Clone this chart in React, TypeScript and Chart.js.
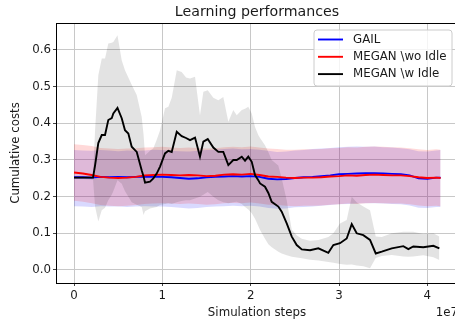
import React, { useEffect, useRef } from "react";
import { Chart, registerables } from "chart.js";

Chart.register(...registerables);

const TITLE = "Learning performances";
const X_LABEL = "Simulation steps";
const Y_LABEL = "Cumulative costs";
const X_OFFSET_LABEL = "1e7";
const SERIES_NAMES = ["GAIL", "MEGAN \\wo Idle", "MEGAN \\w Idle"];
const SERIES_COLORS = ["#0000ff", "#ff0000", "#000000"];
const BAND_COLORS = ["rgba(0,0,255,0.15)", "rgba(255,0,0,0.15)", "rgba(0,0,0,0.11)"];

const X_TICKS = [0, 1, 2, 3, 4];
const Y_TICKS = [0.0, 0.1, 0.2, 0.3, 0.4, 0.5, 0.6];
const X_MIN = -0.204;
const X_MAX = 4.347;
const Y_MIN = -0.0355;
const Y_MAX = 0.6736;

// simulation steps (units of 1e7) for GAIL and MEGAN \wo Idle
const baseSteps = [
  0, 0.1, 0.2, 0.3, 0.4, 0.5, 0.6, 0.7, 0.8, 0.9, 1.0, 1.1, 1.2, 1.3, 1.4, 1.5, 1.6, 1.7, 1.8, 1.9, 2.0,
  2.1, 2.2, 2.3, 2.4, 2.5, 2.6, 2.7, 2.8, 2.9, 3.0, 3.1, 3.2, 3.3, 3.4, 3.5, 3.6, 3.7, 3.8, 3.9, 4.0, 4.1, 4.15,
];

const gailMean = [
  0.253, 0.253, 0.252, 0.254, 0.253, 0.254, 0.253, 0.254, 0.255, 0.254, 0.254, 0.253, 0.251, 0.249, 0.25,
  0.253, 0.254, 0.255, 0.256, 0.255, 0.256, 0.254, 0.249, 0.247, 0.248, 0.251, 0.253, 0.254, 0.256, 0.258,
  0.261, 0.262, 0.263, 0.264, 0.264, 0.263, 0.262, 0.261, 0.258, 0.25, 0.249, 0.252, 0.252,
];
const gailUpper = [
  0.327, 0.326, 0.325, 0.327, 0.326, 0.324, 0.326, 0.325, 0.326, 0.328, 0.327, 0.325, 0.324, 0.323, 0.325,
  0.327, 0.328, 0.33, 0.331, 0.329, 0.33, 0.328, 0.325, 0.322, 0.323, 0.326, 0.327, 0.33, 0.331, 0.333,
  0.335, 0.336, 0.337, 0.336, 0.337, 0.335, 0.334, 0.332, 0.329, 0.324, 0.323, 0.326, 0.327,
];
const gailLower = [
  0.174, 0.173, 0.172, 0.174, 0.173, 0.173, 0.172, 0.173, 0.174, 0.173, 0.173, 0.172, 0.17, 0.168, 0.169,
  0.172, 0.173, 0.174, 0.175, 0.174, 0.175, 0.173, 0.169, 0.167, 0.168, 0.171, 0.172, 0.173, 0.175, 0.177,
  0.179, 0.18, 0.181, 0.182, 0.182, 0.181, 0.18, 0.179, 0.176, 0.17, 0.169, 0.172, 0.172,
];

const woMean = [
  0.266, 0.263, 0.259, 0.254, 0.252, 0.251, 0.252, 0.254, 0.258, 0.259, 0.26, 0.259, 0.258, 0.259, 0.258,
  0.256, 0.257, 0.26, 0.261, 0.26, 0.262, 0.259, 0.255, 0.254, 0.252, 0.251, 0.252, 0.252, 0.253, 0.255,
  0.256, 0.258, 0.257, 0.259, 0.26, 0.259, 0.258, 0.258, 0.256, 0.253, 0.251, 0.252, 0.251,
];
const woUpper = [
  0.343, 0.341, 0.338, 0.333, 0.331, 0.33, 0.331, 0.332, 0.334, 0.335, 0.336, 0.334, 0.333, 0.334, 0.333,
  0.331, 0.332, 0.335, 0.336, 0.335, 0.337, 0.334, 0.331, 0.33, 0.328, 0.328, 0.329, 0.329, 0.33, 0.332,
  0.333, 0.335, 0.334, 0.336, 0.337, 0.336, 0.335, 0.334, 0.332, 0.329, 0.327, 0.329, 0.328,
];
const woLower = [
  0.189, 0.186, 0.182, 0.177, 0.175, 0.174, 0.175, 0.177, 0.18, 0.181, 0.182, 0.181, 0.18, 0.181, 0.18,
  0.178, 0.179, 0.182, 0.183, 0.182, 0.184, 0.181, 0.178, 0.177, 0.175, 0.174, 0.175, 0.175, 0.176, 0.178,
  0.179, 0.181, 0.18, 0.182, 0.183, 0.182, 0.181, 0.181, 0.179, 0.176, 0.174, 0.175, 0.174,
];

// simulation steps (units of 1e7) for MEGAN \w Idle
const wSteps = [
  0, 0.102, 0.215, 0.238, 0.275, 0.314, 0.351, 0.388, 0.427, 0.445, 0.492, 0.54, 0.577, 0.615, 0.653, 0.71,
  0.766, 0.787, 0.804, 0.86, 0.898, 0.936, 0.974, 1.03, 1.068, 1.106, 1.163, 1.219, 1.268, 1.313, 1.37,
  1.426, 1.464, 1.514, 1.577, 1.634, 1.69, 1.747, 1.803, 1.842, 1.899, 1.936, 1.973, 2.012, 2.049, 2.086,
  2.106, 2.162, 2.2, 2.238, 2.313, 2.351, 2.408, 2.465, 2.521, 2.578, 2.672, 2.766, 2.879, 2.936, 3.011,
  3.087, 3.144, 3.2, 3.275, 3.351, 3.416, 3.484, 3.597, 3.728, 3.785, 3.841, 3.954, 4.068, 4.136,
];
const wMean = [
  0.252, 0.252, 0.252, 0.285, 0.346, 0.368, 0.368, 0.409, 0.414, 0.427, 0.442, 0.414, 0.381, 0.372, 0.336,
  0.322, 0.272, 0.255, 0.238, 0.241, 0.25, 0.263, 0.282, 0.318, 0.325, 0.322, 0.377, 0.365, 0.36, 0.354,
  0.361, 0.309, 0.35, 0.357, 0.334, 0.322, 0.322, 0.286, 0.3, 0.3, 0.309, 0.298, 0.309, 0.295, 0.259,
  0.245, 0.236, 0.227, 0.21, 0.186, 0.173, 0.159, 0.127, 0.091, 0.068, 0.056, 0.054, 0.059, 0.047, 0.068,
  0.073, 0.086, 0.125, 0.1, 0.095, 0.082, 0.045, 0.05, 0.059, 0.065, 0.057, 0.064, 0.062, 0.066, 0.059,
];
const wUpper = [
  0.256, 0.256, 0.258, 0.38, 0.531, 0.577, 0.577, 0.618, 0.62, 0.622, 0.64, 0.572, 0.545, 0.525, 0.505,
  0.477, 0.418, 0.37, 0.313, 0.325, 0.332, 0.355, 0.381, 0.441, 0.445, 0.47, 0.545, 0.54, 0.525, 0.522,
  0.527, 0.422, 0.486, 0.49, 0.47, 0.463, 0.472, 0.404, 0.436, 0.422, 0.436, 0.44, 0.445, 0.427, 0.39,
  0.368, 0.36, 0.34, 0.322, 0.3, 0.285, 0.25, 0.19, 0.11, 0.095, 0.085, 0.08, 0.082, 0.09, 0.1,
  0.127, 0.136, 0.2, 0.185, 0.173, 0.163, 0.091, 0.09, 0.1, 0.104, 0.104, 0.104, 0.098, 0.1, 0.091,
];
const wLower = [
  0.248, 0.248, 0.246, 0.173, 0.132, 0.163, 0.17, 0.19, 0.205, 0.215, 0.245, 0.235, 0.215, 0.2, 0.185,
  0.178, 0.172, 0.15, 0.16, 0.168, 0.17, 0.172, 0.177, 0.18, 0.182, 0.18, 0.185, 0.188, 0.19, 0.19,
  0.195, 0.2, 0.205, 0.213, 0.2, 0.19, 0.185, 0.182, 0.185, 0.186, 0.18, 0.172, 0.165, 0.155, 0.14,
  0.12, 0.109, 0.085, 0.07, 0.062, 0.05, 0.045, 0.04, 0.036, 0.034, 0.032, 0.028, 0.026, 0.022, 0.02,
  0.016, 0.014, 0.015, 0.012, 0.01, 0.005, 0.033, 0.038, 0.041, 0.037, 0.036, 0.037, 0.04, 0.035, 0.027,
];

const FONT = "'DejaVu Sans', sans-serif";
const FS = 11.8;
const TEXT_COLOR = "#1a1a1a";

const pts = (xs: number[], ys: number[]) => xs.map((x, i) => ({ x, y: ys[i] }));

const lineDs = (label: string, xs: number[], ys: number[], color: string, order: number) => ({
  label,
  data: pts(xs, ys),
  borderColor: color,
  backgroundColor: color,
  borderWidth: 1.9,
  pointRadius: 0,
  pointHoverRadius: 0,
  tension: 0,
  fill: false,
  order,
});

const bandDs = (label: string, xs: number[], ys: number[], fill: any, color: string, order: number) => ({
  label,
  data: pts(xs, ys),
  borderColor: "rgba(0,0,0,0)",
  backgroundColor: color,
  borderWidth: 0,
  pointRadius: 0,
  pointHoverRadius: 0,
  tension: 0,
  fill,
  order,
});

const decorPlugin = {
  id: "decor",
  afterDatasetsDraw(chart: any) {
    const { ctx, chartArea: ca } = chart;
    ctx.save();
    // frame
    ctx.strokeStyle = "#000";
    ctx.lineWidth = 1;
    ctx.strokeRect(Math.round(ca.left) + 0.5, Math.round(ca.top) + 0.5, Math.round(ca.right - ca.left), Math.round(ca.bottom - ca.top));
    // title
    ctx.fillStyle = TEXT_COLOR;
    ctx.font = `14.2px ${FONT}`;
    ctx.textAlign = "center";
    ctx.textBaseline = "alphabetic";
    ctx.fillText(TITLE, (ca.left + ca.right) / 2, ca.top - 7);
    // offset text
    ctx.font = `${FS}px ${FONT}`;
    ctx.textAlign = "right";
    ctx.fillText(X_OFFSET_LABEL, ca.right, 316);
    // legend
    const bw = 138, bh = 56;
    const bx = ca.right - 6 - bw;
    const by = ca.top + 7;
    ctx.beginPath();
    const r = 3;
    ctx.moveTo(bx + r, by);
    ctx.lineTo(bx + bw - r, by);
    ctx.quadraticCurveTo(bx + bw, by, bx + bw, by + r);
    ctx.lineTo(bx + bw, by + bh - r);
    ctx.quadraticCurveTo(bx + bw, by + bh, bx + bw - r, by + bh);
    ctx.lineTo(bx + r, by + bh);
    ctx.quadraticCurveTo(bx, by + bh, bx, by + bh - r);
    ctx.lineTo(bx, by + r);
    ctx.quadraticCurveTo(bx, by, bx + r, by);
    ctx.closePath();
    ctx.fillStyle = "rgba(255,255,255,0.8)";
    ctx.fill();
    ctx.strokeStyle = "#cccccc";
    ctx.lineWidth = 1;
    ctx.stroke();
    ctx.textAlign = "left";
    ctx.textBaseline = "middle";
    SERIES_NAMES.forEach((name, i) => {
      const cy = by + 9.5 + i * 17.3;
      ctx.strokeStyle = SERIES_COLORS[i];
      ctx.lineWidth = 1.9;
      ctx.beginPath();
      ctx.moveTo(bx + 4, cy);
      ctx.lineTo(bx + 29, cy);
      ctx.stroke();
      ctx.fillStyle = TEXT_COLOR;
      ctx.fillText(name, bx + 39, cy);
    });
    ctx.restore();
  },
};

export default function App() {
  const ref = useRef<HTMLCanvasElement | null>(null);

  useEffect(() => {
    if (!ref.current) return;
    Chart.defaults.font.family = FONT;
    Chart.defaults.font.size = FS;
    Chart.defaults.color = TEXT_COLOR;

    const datasets: any[] = [
      lineDs(SERIES_NAMES[0], baseSteps, gailMean, SERIES_COLORS[0], 2),
      lineDs(SERIES_NAMES[1], baseSteps, woMean, SERIES_COLORS[1], 1),
      lineDs(SERIES_NAMES[2], wSteps, wMean, SERIES_COLORS[2], 0),
      bandDs("GAIL upper", baseSteps, gailUpper, false, BAND_COLORS[0], 5),
      bandDs("GAIL lower", baseSteps, gailLower, 3, BAND_COLORS[0], 5),
      bandDs("wo upper", baseSteps, woUpper, false, BAND_COLORS[1], 4),
      bandDs("wo lower", baseSteps, woLower, 5, BAND_COLORS[1], 4),
      bandDs("w upper", wSteps, wUpper, false, BAND_COLORS[2], 3),
      bandDs("w lower", wSteps, wLower, 7, BAND_COLORS[2], 3),
    ];

    const chart = new Chart(ref.current, {
      type: "line",
      data: { datasets },
      plugins: [decorPlugin],
      options: {
        responsive: false,
        animation: false,
        devicePixelRatio: 1,
        layout: { padding: { left: 0, top: 23, right: 4, bottom: 0 } },
        plugins: {
          legend: { display: false },
          tooltip: { enabled: false },
          title: { display: false },
        },
        scales: {
          x: {
            type: "linear",
            min: X_MIN,
            max: X_MAX,
            afterFit: (s: any) => {
              s.height = 41;
            },
            afterBuildTicks: (s: any) => {
              s.ticks = X_TICKS.map((v) => ({ value: v }));
            },
            ticks: {
              autoSkip: false,
              maxRotation: 0,
              padding: 3,
              color: TEXT_COLOR,
              font: { family: FONT, size: FS },
              callback: (v: any) => String(v),
            },
            grid: { color: "#c8c8c8", lineWidth: 1, tickLength: 3, tickColor: "#444" },
            border: { display: false },
            title: {
              display: true,
              text: X_LABEL,
              color: TEXT_COLOR,
              font: { family: FONT, size: FS },
              padding: { top: 0, bottom: 4 },
            },
          },
          y: {
            type: "linear",
            min: Y_MIN,
            max: Y_MAX,
            afterFit: (s: any) => {
              s.width = 56;
            },
            afterBuildTicks: (s: any) => {
              s.ticks = Y_TICKS.map((v) => ({ value: v }));
            },
            ticks: {
              autoSkip: false,
              padding: 2,
              color: TEXT_COLOR,
              font: { family: FONT, size: FS },
              callback: (v: any) => Number(v).toFixed(1),
            },
            grid: { color: "#c8c8c8", lineWidth: 1, tickLength: 3, tickColor: "#444" },
            border: { display: false },
            title: {
              display: true,
              text: Y_LABEL,
              color: TEXT_COLOR,
              font: { family: FONT, size: FS },
              padding: { top: 9, bottom: 0 },
            },
          },
        },
      } as any,
    });
    return () => chart.destroy();
  }, []);

  return (
    <div style={{ position: "fixed", left: 0, top: 0, width: 455, height: 324, overflow: "hidden", background: "#fff" }}>
      <canvas ref={ref} width={462} height={324} style={{ width: 462, height: 324, display: "block" }} />
    </div>
  );
}
